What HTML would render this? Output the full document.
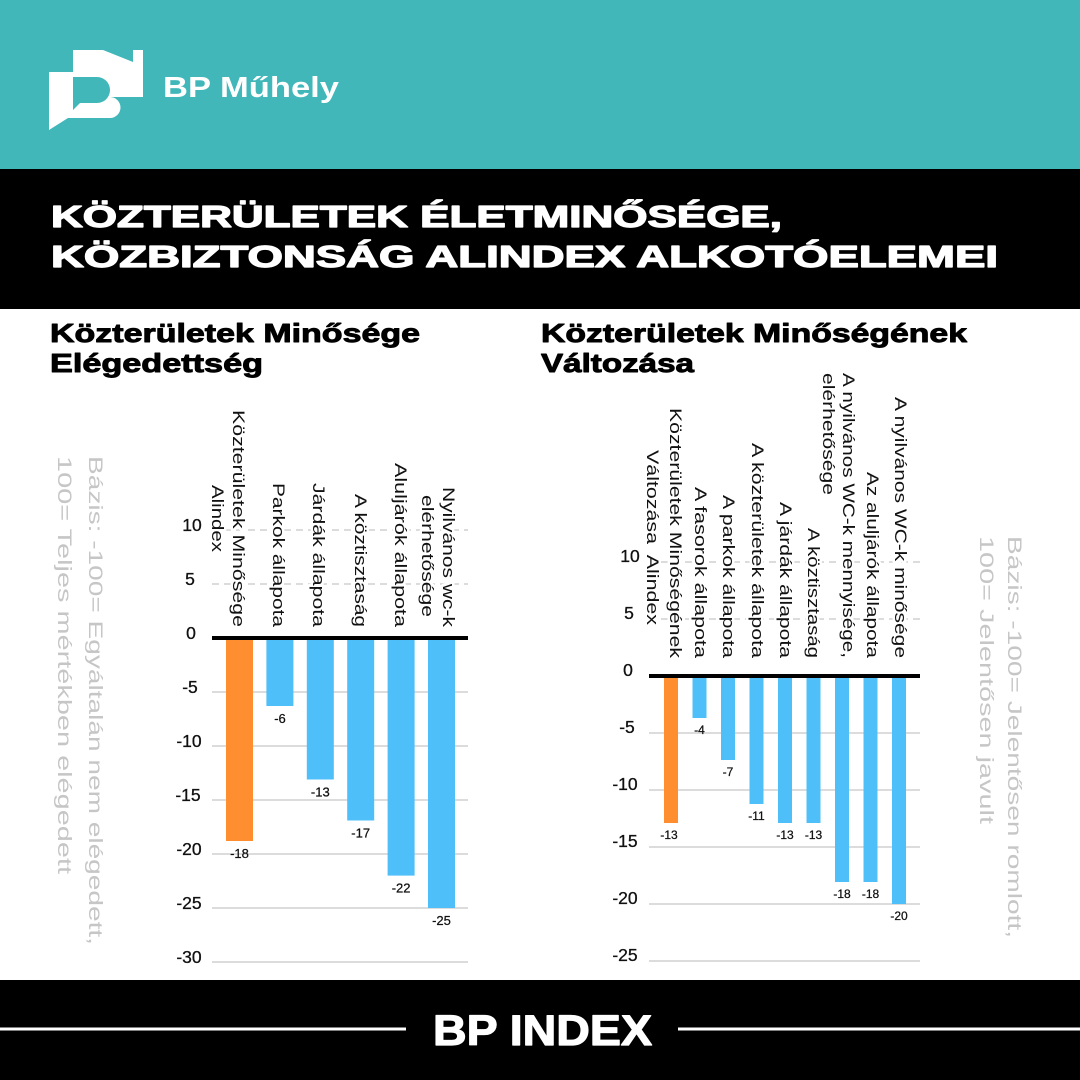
<!DOCTYPE html>
<html>
<head>
<meta charset="utf-8">
<style>
html,body{margin:0;padding:0;background:#fff;}
svg{display:block;}
text{font-family:"Liberation Sans",sans-serif;}
.halo{paint-order:stroke;stroke:#fff;stroke-width:5px;stroke-linejoin:round;}
</style>
</head>
<body>
<svg width="1080" height="1080" viewBox="0 0 1080 1080" xmlns="http://www.w3.org/2000/svg">
  <!-- header teal -->
  <rect x="0" y="0" width="1080" height="169" fill="#41B7BA"/>
  <!-- logo -->
  <path d="M49,72 L73,72 L73,50 L103,50 L133,62 L133,50 L143,50 L143,97 L110,97 A10.5,10.5 0 0 1 110,118 L68,118 L49,130 Z" fill="#fff"/>
  <path d="M73,77 L97,77 A13,13 0 0 1 97,103 L80,103 L73,110 Z" fill="#41B7BA"/>
  <text x="163" y="97" font-size="29" font-weight="bold" fill="#fff" textLength="176" lengthAdjust="spacingAndGlyphs">BP Műhely</text>

  <!-- title band -->
  <rect x="0" y="169" width="1080" height="140" fill="#000"/>
  <g fill="#fff" stroke="#fff" stroke-width="1.3" stroke-linejoin="round" font-size="31" font-weight="bold">
    <text x="51" y="227" textLength="731" lengthAdjust="spacingAndGlyphs">KÖZTERÜLETEK ÉLETMINŐSÉGE,</text>
    <text x="51" y="267" textLength="947" lengthAdjust="spacingAndGlyphs">KÖZBIZTONSÁG ALINDEX ALKOTÓELEMEI</text>
  </g>

  <!-- subtitles -->
  <g fill="#000" stroke="#000" stroke-width="0.9" stroke-linejoin="round" font-size="26" font-weight="bold">
    <text x="50" y="342" textLength="370" lengthAdjust="spacingAndGlyphs">Közterületek Minősége</text>
    <text x="50" y="372" textLength="213" lengthAdjust="spacingAndGlyphs">Elégedettség</text>
    <text x="541" y="342" textLength="426" lengthAdjust="spacingAndGlyphs">Közterületek Minőségének</text>
    <text x="541" y="372" textLength="153" lengthAdjust="spacingAndGlyphs">Változása</text>
  </g>

  <!-- side notes -->
  <g fill="#C6C6C6" font-size="19">
    <text transform="translate(89,456) rotate(90)" textLength="489" lengthAdjust="spacingAndGlyphs">Bázis: -100= Egyáltalán nem elégedett,</text>
    <text transform="translate(58,456) rotate(90)" textLength="418" lengthAdjust="spacingAndGlyphs">100= Teljes mértékben elégedett</text>
    <text transform="translate(1008,536) rotate(90)" textLength="402" lengthAdjust="spacingAndGlyphs">Bázis: -100= Jelentősen romlott,</text>
    <text transform="translate(980,536) rotate(90)" textLength="288" lengthAdjust="spacingAndGlyphs">100= Jelentősen javult</text>
  </g>

  <!-- LEFT CHART -->
  <g stroke="#D0D0D0" stroke-width="1.5" stroke-dasharray="7 5">
    <line x1="212" y1="530" x2="468" y2="530"/>
    <line x1="212" y1="584" x2="468" y2="584"/>
  </g>
  <g stroke="#DCDCDC" stroke-width="2">
    <line x1="212" y1="692" x2="468" y2="692"/>
    <line x1="212" y1="746" x2="468" y2="746"/>
    <line x1="212" y1="800" x2="468" y2="800"/>
    <line x1="212" y1="854" x2="468" y2="854"/>
    <line x1="212" y1="908" x2="468" y2="908"/>
    <line x1="212" y1="962" x2="468" y2="962"/>
  </g>
  <g font-size="17.5" fill="#111" text-anchor="middle" stroke="#111" stroke-width="0.3">
    <text x="192" y="531">10</text>
    <text x="190" y="585">5</text>
    <text x="191" y="639">0</text>
    <text x="190" y="693">-5</text>
    <text x="189" y="747">-10</text>
    <text x="188" y="801">-15</text>
    <text x="189" y="855">-20</text>
    <text x="189" y="909">-25</text>
    <text x="189" y="963">-30</text>
  </g>
  <rect x="226" y="638" width="27" height="203" fill="#FF8E31"/>
  <rect x="266.4" y="638" width="27" height="68" fill="#4FBFFA"/>
  <rect x="306.8" y="638" width="27" height="141.5" fill="#4FBFFA"/>
  <rect x="347.2" y="638" width="27" height="182.5" fill="#4FBFFA"/>
  <rect x="387.6" y="638" width="27" height="237.6" fill="#4FBFFA"/>
  <rect x="428" y="638" width="27" height="270" fill="#4FBFFA"/>
  <rect x="212" y="636" width="256" height="4" fill="#000"/>
  <g font-size="13" fill="#111" text-anchor="middle" stroke="#111" stroke-width="0.25">
    <text x="239.5" y="858">-18</text>
    <text x="280" y="723">-6</text>
    <text x="320.3" y="796.5">-13</text>
    <text x="360.7" y="837.5">-17</text>
    <text x="401.1" y="892.6">-22</text>
    <text x="441.5" y="925">-25</text>
  </g>
  <g font-size="17" fill="#111" class="halo">
    <text transform="translate(233,518.5) rotate(90)" text-anchor="middle" textLength="217" lengthAdjust="spacingAndGlyphs">Közterületek Minősége</text>
    <text transform="translate(212,518.5) rotate(90)" text-anchor="middle" textLength="67" lengthAdjust="spacingAndGlyphs">Alindex</text>
    <text transform="translate(273,483) rotate(90)" textLength="144" lengthAdjust="spacingAndGlyphs">Parkok állapota</text>
    <text transform="translate(313,483) rotate(90)" textLength="144" lengthAdjust="spacingAndGlyphs">Járdák állapota</text>
    <text transform="translate(355,494) rotate(90)" textLength="133" lengthAdjust="spacingAndGlyphs">A köztisztaság</text>
    <text transform="translate(395,463) rotate(90)" textLength="164" lengthAdjust="spacingAndGlyphs">Aluljárók állapota</text>
    <text transform="translate(443,487) rotate(90)" textLength="140" lengthAdjust="spacingAndGlyphs">Nyilvános wc-k</text>
    <text transform="translate(422,495) rotate(90)" textLength="122" lengthAdjust="spacingAndGlyphs">elérhetősége</text>
  </g>

  <!-- RIGHT CHART -->
  <g stroke="#D0D0D0" stroke-width="1.5" stroke-dasharray="7 5">
    <line x1="649" y1="562" x2="920" y2="562"/>
    <line x1="649" y1="619" x2="920" y2="619"/>
  </g>
  <g stroke="#DCDCDC" stroke-width="2">
    <line x1="649" y1="733" x2="920" y2="733"/>
    <line x1="649" y1="790" x2="920" y2="790"/>
    <line x1="649" y1="847" x2="920" y2="847"/>
    <line x1="649" y1="904" x2="920" y2="904"/>
    <line x1="649" y1="961" x2="920" y2="961"/>
  </g>
  <g font-size="17.5" fill="#111" text-anchor="middle" stroke="#111" stroke-width="0.3">
    <text x="630" y="562">10</text>
    <text x="629" y="619">5</text>
    <text x="628" y="676">0</text>
    <text x="627" y="733">-5</text>
    <text x="625" y="790">-10</text>
    <text x="625" y="847">-15</text>
    <text x="625" y="904">-20</text>
    <text x="625" y="961">-25</text>
  </g>
  <rect x="664" y="676" width="14" height="147" fill="#FF8E31"/>
  <rect x="692.5" y="676" width="14" height="42" fill="#4FBFFA"/>
  <rect x="721" y="676" width="14" height="84" fill="#4FBFFA"/>
  <rect x="749.5" y="676" width="14" height="128" fill="#4FBFFA"/>
  <rect x="778" y="676" width="14" height="147" fill="#4FBFFA"/>
  <rect x="806.5" y="676" width="14" height="147" fill="#4FBFFA"/>
  <rect x="835" y="676" width="14" height="206" fill="#4FBFFA"/>
  <rect x="863.5" y="676" width="14" height="206" fill="#4FBFFA"/>
  <rect x="892" y="676" width="14" height="228" fill="#4FBFFA"/>
  <rect x="649" y="674" width="271" height="4" fill="#000"/>
  <g font-size="12" fill="#111" text-anchor="middle" stroke="#111" stroke-width="0.25">
    <text x="669" y="839">-13</text>
    <text x="699.5" y="734">-4</text>
    <text x="728" y="776">-7</text>
    <text x="756.5" y="820">-11</text>
    <text x="785" y="839">-13</text>
    <text x="813.5" y="839">-13</text>
    <text x="842" y="898">-18</text>
    <text x="870.5" y="898">-18</text>
    <text x="899" y="920">-20</text>
  </g>
  <g font-size="17" fill="#111" class="halo">
    <text transform="translate(670,408) rotate(90)" textLength="250" lengthAdjust="spacingAndGlyphs">Közterületek Minőségének</text>
    <text transform="translate(647,450) rotate(90)" textLength="175" lengthAdjust="spacingAndGlyphs" xml:space="preserve">Változása  Alindex</text>
    <text transform="translate(695,487) rotate(90)" textLength="171" lengthAdjust="spacingAndGlyphs">A fasorok állapota</text>
    <text transform="translate(723,495) rotate(90)" textLength="163" lengthAdjust="spacingAndGlyphs">A parkok állapota</text>
    <text transform="translate(752,443) rotate(90)" textLength="215" lengthAdjust="spacingAndGlyphs">A közterületek állapota</text>
    <text transform="translate(780,502) rotate(90)" textLength="156" lengthAdjust="spacingAndGlyphs">A járdák állapota</text>
    <text transform="translate(808,528) rotate(90)" textLength="130" lengthAdjust="spacingAndGlyphs">A köztisztaság</text>
    <text transform="translate(843,373) rotate(90)" textLength="285" lengthAdjust="spacingAndGlyphs">A nyilvános WC-k mennyisége,</text>
    <text transform="translate(823,373) rotate(90)" textLength="122" lengthAdjust="spacingAndGlyphs">elérhetősége</text>
    <text transform="translate(867,472) rotate(90)" textLength="186" lengthAdjust="spacingAndGlyphs">Az aluljárók állapota</text>
    <text transform="translate(895,397) rotate(90)" textLength="261" lengthAdjust="spacingAndGlyphs">A nyilvános WC-k minősége</text>
  </g>

  <!-- footer -->
  <rect x="0" y="980" width="1080" height="100" fill="#000"/>
  <rect x="0" y="1027.5" width="406" height="3" fill="#fff"/>
  <rect x="678" y="1027.5" width="402" height="3" fill="#fff"/>
  <text x="433" y="1045" font-size="43" font-weight="bold" fill="#fff" stroke="#fff" stroke-width="1.2" stroke-linejoin="round" textLength="219" lengthAdjust="spacingAndGlyphs">BP INDEX</text>
</svg>
</body>
</html>
